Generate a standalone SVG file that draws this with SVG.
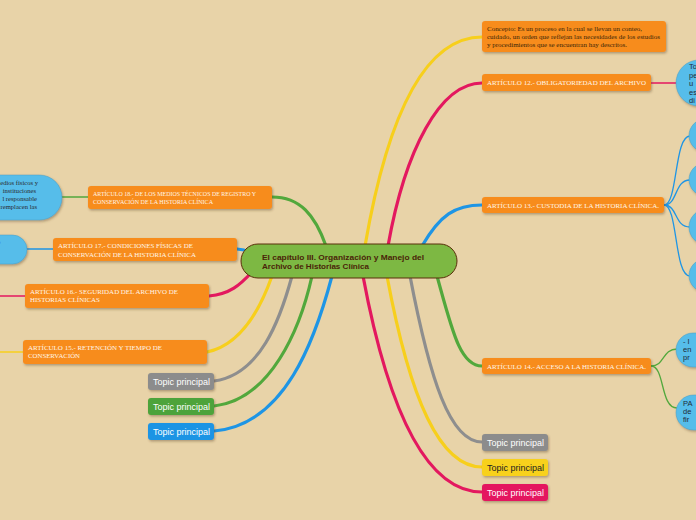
<svg xmlns="http://www.w3.org/2000/svg" width="696" height="520" viewBox="0 0 696 520">
<defs>
<filter id="sh" x="-10%" y="-20%" width="130%" height="160%"><feDropShadow dx="1" dy="1.5" stdDeviation="0.8" flood-color="#5a4020" flood-opacity="0.4"/></filter>
</defs>
<style>
.art{fill:#f78c1f;filter:url(#sh)}
.at{font-family:"Liberation Serif",serif;font-size:6px;fill:#fff6e8}
.ct{font-family:"Liberation Serif",serif;font-size:6px;fill:#3a2608}
.lt{font-family:"Liberation Serif",serif;font-size:6.6px;fill:#2a2a30}
.bn{fill:#56bdea;stroke:#4a9cc0;stroke-width:0.5;filter:url(#sh)}
.bt{font-family:"Liberation Sans",sans-serif;font-size:7.5px;fill:#1f2a38}
.tp{font-family:"Liberation Sans",sans-serif;font-size:8.5px;fill:#ffffff}
.c{fill:none;stroke-linecap:round}
.y{stroke:#f7cf1c}.r{stroke:#e3185f}.b{stroke:#1e95e5}.g{stroke:#52a83c}.k{stroke:#8e8e8e}
.m{stroke-width:3.2}.s{stroke-width:1.3}
</style>
<rect width="696" height="520" fill="#e8d3a8"/>
<g id="connectors">
<path class="c g m" d="M272,197 C300,197 315,215 326,246"/>
<path class="c b m" d="M237,249 L244,250"/>
<path class="c r m" d="M209,296 C230,294 240,285 252,272"/>
<path class="c y m" d="M207,352 C240,345 260,310 272,276"/>
<path class="c k m" d="M214,381 C260,375 280,320 292,276"/>
<path class="c g m" d="M214,406 C270,400 300,330 312,276"/>
<path class="c b m" d="M214,431 C285,425 315,340 332,276"/>
<path class="c y m" d="M365,246 C385,130 420,37 482,37"/>
<path class="c r m" d="M388,246 C405,150 440,83 482,83"/>
<path class="c b m" d="M422,246 C440,215 455,205 482,205"/>
<path class="c g m" d="M437,276 C452,330 460,366 482,366"/>
<path class="c k m" d="M410,276 C430,380 450,442 482,442"/>
<path class="c y m" d="M387,276 C410,400 440,467 482,467"/>
<path class="c r m" d="M363,276 C390,420 430,492 482,492"/>
<path class="c r s" d="M651,83 L677,83"/>
<path class="c b s" d="M664,205 C678,205 674,136 690,136"/>
<path class="c b s" d="M664,205 C678,205 674,180 690,180"/>
<path class="c b s" d="M664,205 C678,205 674,227 690,227"/>
<path class="c b s" d="M664,205 C678,205 674,276 690,276"/>
<path class="c g s" d="M651,366 C665,366 662,349 677,349"/>
<path class="c g s" d="M651,366 C665,366 660,408 677,408"/>
<path class="c g s" d="M88,197 L61,197"/>
<path class="c b s" d="M53,249 L26,249"/>
<path class="c r s" d="M0,296 L25,296"/>
<path class="c y s" d="M0,352 L23,352"/>
</g>
<g id="center">
<rect x="241" y="244" width="216" height="34" rx="17" fill="#7db843" stroke="#5a2e0a" stroke-width="1"/>
<text x="262" y="260" font-family="Liberation Sans,sans-serif" font-weight="bold" font-size="7.2" fill="#4a2408" textLength="162" lengthAdjust="spacingAndGlyphs">El capítulo III. Organización y Manejo del</text>
<text x="262" y="269" font-family="Liberation Sans,sans-serif" font-weight="bold" font-size="7.2" fill="#4a2408" textLength="107" lengthAdjust="spacingAndGlyphs">Archivo de Historias Clínica</text>
</g>
<g id="concepto">
<rect class="art" x="482" y="21" width="184" height="31" rx="3"/>
<text class="ct" x="487" y="31" textLength="155" lengthAdjust="spacingAndGlyphs">Concepto: Es un proceso en la cual se llevan un conteo,</text>
<text class="ct" x="487" y="39" textLength="173" lengthAdjust="spacingAndGlyphs">cuidado, un orden que reflejan las necesidades de los estudios</text>
<text class="ct" x="487" y="47" textLength="140" lengthAdjust="spacingAndGlyphs">y procedimientos que se encuentran hay descritos.</text>
</g>
<g id="art12">
<rect class="art" x="482" y="74" width="169" height="17" rx="3"/>
<text class="at" x="487" y="85" textLength="159" lengthAdjust="spacingAndGlyphs">ARTÍCULO 12.- OBLIGATORIEDAD DEL ARCHIVO</text>
</g>
<g id="art12-child">
<rect class="bn" x="676" y="60" width="70" height="46" rx="23"/>
<text class="bt" x="689" y="69">To</text>
<text class="bt" x="689" y="77.5">pe</text>
<text class="bt" x="689" y="86">u</text>
<text class="bt" x="689" y="94.5">es</text>
<text class="bt" x="689" y="103">di</text>
</g>
<g id="art13">
<rect class="art" x="482" y="197" width="182" height="16" rx="3"/>
<text class="at" x="487" y="207.5" textLength="172" lengthAdjust="spacingAndGlyphs">ARTÍCULO 13.- CUSTODIA DE LA HISTORIA CLÍNICA.</text>
</g>
<g id="art13-c1"><rect class="bn" x="689" y="119" width="60" height="33" rx="16.5"/></g>
<g id="art13-c2"><rect class="bn" x="689" y="163" width="60" height="33" rx="16.5"/></g>
<g id="art13-c3"><rect class="bn" x="689" y="209" width="60" height="36" rx="18"/></g>
<g id="art13-c4"><rect class="bn" x="689" y="259" width="60" height="33" rx="16.5"/></g>
<g id="art14">
<rect class="art" x="482" y="358" width="169" height="16" rx="3"/>
<text class="at" x="487" y="368.5" textLength="159" lengthAdjust="spacingAndGlyphs">ARTÍCULO 14.- ACCESO A LA HISTORIA CLÍNICA.</text>
</g>
<g id="art14-c1">
<rect class="bn" x="676" y="333" width="70" height="34" rx="17"/>
<text class="bt" x="683" y="344">- I</text>
<text class="bt" x="683" y="352">en</text>
<text class="bt" x="683" y="360">pr</text>
</g>
<g id="art14-c2">
<rect class="bn" x="676" y="395" width="70" height="35" rx="17.5"/>
<text class="bt" x="683" y="406">PA</text>
<text class="bt" x="683" y="414">de</text>
<text class="bt" x="683" y="422">fir</text>
</g>
<g id="topic-gray-r">
<rect x="482" y="434" width="66" height="17" rx="3" fill="#8c8c8c" filter="url(#sh)"/>
<text class="tp" x="487" y="445.5" textLength="57" lengthAdjust="spacingAndGlyphs">Topic principal</text>
</g>
<g id="topic-yellow-r">
<rect x="482" y="459" width="66" height="17" rx="3" fill="#f8d11e" filter="url(#sh)"/>
<text class="tp" x="487" y="470.5" style="fill:#222" textLength="57" lengthAdjust="spacingAndGlyphs">Topic principal</text>
</g>
<g id="topic-red-r">
<rect x="482" y="484" width="66" height="17" rx="3" fill="#e4185f" filter="url(#sh)"/>
<text class="tp" x="487" y="495.5" textLength="57" lengthAdjust="spacingAndGlyphs">Topic principal</text>
</g>
<g id="art18">
<rect class="art" x="88" y="186" width="184" height="23" rx="3"/>
<text class="at" x="93" y="196" style="font-size:5.2px" textLength="163" lengthAdjust="spacingAndGlyphs">ARTÍCULO 18.- DE LOS MEDIOS TÉCNICOS DE REGISTRO Y</text>
<text class="at" x="93" y="204" style="font-size:5.2px" textLength="120" lengthAdjust="spacingAndGlyphs">CONSERVACIÓN DE LA HISTORIA CLÍNICA</text>
</g>
<g id="art18-child">
<rect class="bn" x="-50" y="175" width="112" height="45" rx="22.5"/>
<text class="lt" x="38" y="184.5" text-anchor="end">edios físicos y</text>
<text class="lt" x="36" y="192.5" text-anchor="end">instituciones</text>
<text class="lt" x="37" y="200.5" text-anchor="end">l responsable</text>
<text class="lt" x="37" y="208.5" text-anchor="end">remplacen las</text>
</g>
<g id="art17">
<rect class="art" x="53" y="238" width="184" height="23" rx="3"/>
<text class="at" x="58" y="248" textLength="135" lengthAdjust="spacingAndGlyphs">ARTÍCULO 17.- CONDICIONES FÍSICAS DE</text>
<text class="at" x="58" y="257" textLength="138" lengthAdjust="spacingAndGlyphs">CONSERVACIÓN DE LA HISTORIA CLÍNICA</text>
</g>
<g id="art17-child">
<rect class="bn" x="-30" y="235" width="57" height="29" rx="14.5"/>
<text class="lt" x="-3" y="243.5">o</text>
</g>
<g id="art16">
<rect class="art" x="25" y="284" width="184" height="24" rx="3"/>
<text class="at" x="30" y="294" textLength="148" lengthAdjust="spacingAndGlyphs">ARTÍCULO 16.- SEGURIDAD DEL ARCHIVO DE</text>
<text class="at" x="30" y="302" textLength="70" lengthAdjust="spacingAndGlyphs">HISTORIAS CLÍNICAS</text>
</g>
<g id="art15">
<rect class="art" x="23" y="340" width="184" height="24" rx="3"/>
<text class="at" x="28" y="350" textLength="134" lengthAdjust="spacingAndGlyphs">ARTÍCULO 15.- RETENCIÓN Y TIEMPO DE</text>
<text class="at" x="28" y="358" textLength="52" lengthAdjust="spacingAndGlyphs">CONSERVACIÓN</text>
</g>
<g id="topic-gray-l">
<rect x="148" y="373" width="66" height="17" rx="3" fill="#8c8c8c" filter="url(#sh)"/>
<text class="tp" x="153" y="384.5" textLength="57" lengthAdjust="spacingAndGlyphs">Topic principal</text>
</g>
<g id="topic-green-l">
<rect x="148" y="398" width="66" height="17" rx="3" fill="#4ea33a" filter="url(#sh)"/>
<text class="tp" x="153" y="409.5" textLength="57" lengthAdjust="spacingAndGlyphs">Topic principal</text>
</g>
<g id="topic-blue-l">
<rect x="148" y="423" width="66" height="17" rx="3" fill="#1c94e4" filter="url(#sh)"/>
<text class="tp" x="153" y="434.5" textLength="57" lengthAdjust="spacingAndGlyphs">Topic principal</text>
</g>
</svg>
